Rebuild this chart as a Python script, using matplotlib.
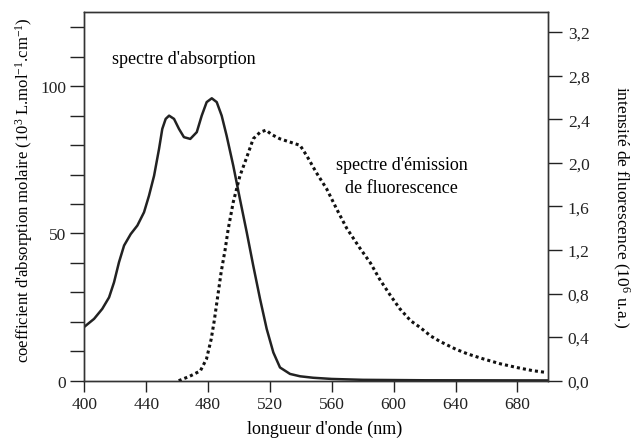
import numpy as np
import matplotlib.pyplot as plt
from matplotlib.ticker import MultipleLocator, FixedLocator, FuncFormatter

# ------------------------------ Define layout ------------------------------
plt.rc('font', family='Liberation Serif', size=12.5)
plt.rc('mathtext', fontset='custom', rm='Liberation Serif', it='Liberation Serif:italic')
plt.rc('axes', linewidth=1.0, edgecolor='#333333')
plt.rc('xtick', labelsize=12.5, color='#222222')
plt.rc('ytick', labelsize=12.5, color='#222222')

# ------------------------------ Data ------------------------------
# absorption spectrum (left axis, 10^3 L.mol-1.cm-1)
abs_nm = [400, 406.3, 411.6, 416, 419.2, 422.4, 425.7, 430, 434.3, 438.6, 441.8, 445.1,
          448.3, 450.4, 452.6, 454.8, 458, 461.2, 464.4, 468.5, 472.7, 475.9, 479.1,
          482.4, 485.6, 488.8, 492, 496.3, 500.6, 505, 509.2, 513.6, 517.9, 522.2,
          526.5, 533, 539.5, 548, 560, 580, 620, 700]
abs_val = [18.3, 21, 24.4, 28.3, 33.4, 40.2, 45.9, 49.8, 52.7, 57.2, 62.8, 69.6,
           78.7, 85.5, 88.9, 90, 88.9, 85.5, 82.7, 82.1, 84.4, 90, 94.6,
           95.9, 94.6, 90, 83.2, 73, 61.7, 50.4, 39.1, 27.8, 17.6, 9.6,
           4.5, 2.3, 1.5, 1.0, 0.6, 0.3, 0.15, 0.1]

# fluorescence emission spectrum (right axis, 10^6 u.a.)
fluo_nm = [461, 468, 475, 479, 482, 484, 486, 488.5, 491, 493, 496.3, 500.6, 505,
           509.2, 513.6, 517.5, 521, 526.5, 533, 539.5, 544, 550, 556.7, 563, 569.6,
           578, 585, 591, 598, 604, 611, 617, 624, 630, 640, 648, 658, 669, 680, 690, 698]
fluo_val = [0.0, 0.04, 0.09, 0.2, 0.38, 0.55, 0.75, 1.0, 1.2, 1.39, 1.64, 1.88, 2.05,
            2.22, 2.28, 2.30, 2.26, 2.22, 2.19, 2.16, 2.06, 1.91, 1.76, 1.58, 1.40,
            1.22, 1.08, 0.93, 0.78, 0.66, 0.55, 0.49, 0.41, 0.36, 0.29, 0.245, 0.2,
            0.155, 0.12, 0.092, 0.077]

x_ticks = [400, 440, 480, 520, 560, 600, 640, 680]
left_ticks = [0, 50, 100]
right_ticks = [0.0, 0.4, 0.8, 1.2, 1.6, 2.0, 2.4, 2.8, 3.2]

# ------------------------------ Plot ------------------------------
fig = plt.figure(figsize=(6.34, 4.39), dpi=100)
ax = fig.add_axes([0.133, 0.1305, 0.7319, 0.8399])
ax2 = ax.twinx()

ax.plot(abs_nm, abs_val, ls='-', color='#222222', lw=1.8,
        solid_joinstyle='round', solid_capstyle='round')
ax2.plot(fluo_nm, fluo_val, ls=(0, (1, 1)), color='#111111', lw=2.2)

ax.set_xlim(400, 700)
ax.set_ylim(0, 125.2)
ax2.set_ylim(0, 3.384)

# ++++++++++++ ticks ++++++++++++
ax.xaxis.set_major_locator(FixedLocator(x_ticks))
ax.yaxis.set_major_locator(FixedLocator(left_ticks))
ax.yaxis.set_minor_locator(MultipleLocator(10))
ax2.yaxis.set_major_locator(FixedLocator(right_ticks))
ax2.yaxis.set_major_formatter(FuncFormatter(lambda v, p: ('%.1f' % v).replace('.', ',')))

ax.tick_params(axis='x', which='major', direction='out', length=8, width=1, top=False, pad=3)
ax.tick_params(axis='y', which='both', direction='out', length=10, width=1, right=False, pad=3)
ax2.tick_params(axis='y', which='major', direction='out', length=10, width=1, pad=4)

# ++++++++++++ labels ++++++++++++
ax.set_xlabel("longueur d'onde (nm)", fontsize=13)
ax.xaxis.set_label_coords(0.517, -0.105)
ax.set_ylabel(r"coefficient d'absorption molaire (10$^3$ L.mol$^{-1}$.cm$^{-1}$)",
              fontsize=12)
ax.yaxis.set_label_coords(-0.107, 0.52)
fig.text(621 / 634, 1 - 207 / 439, r"intensité de fluorescence (10$^6$ u.a.)",
         fontsize=12.5, rotation=270, ha='center', va='center')

ax.text(417.7, 109.3, "spectre d'absorption", fontsize=13, ha='left', va='center')
ax.text(605, 69.4, "spectre d'émission\nde fluorescence", fontsize=13,
        ha='center', va='center', multialignment='center', linespacing=1.45)

fig.savefig('out.png', dpi=100)
